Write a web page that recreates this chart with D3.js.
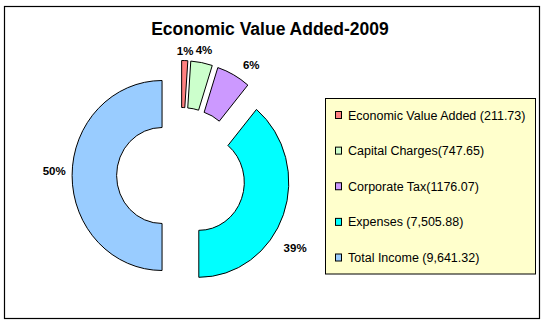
<!DOCTYPE html>
<html><head><meta charset="utf-8">
<script src="https://cdn.jsdelivr.net/npm/d3@7"></script>
<style>body{margin:0;background:#fff}svg{display:block}</style>
</head><body>
<svg id="c" width="546" height="324"></svg>
<script>
const title = "Economic Value Added-2009";
const categories = ["Economic Value Added", "Capital Charges", "Corporate Tax", "Expenses", "Total Income"];
const values = [211.73, 747.65, 1176.07, 7505.88, 9641.32];
const legendLabels = ["Economic Value Added (211.73)", "Capital Charges(747.65)", "Corporate Tax(1176.07)", "Expenses (7,505.88)", "Total Income (9,641.32)"];
const colors = ["#FF8080", "#CCFFCC", "#CC99FF", "#00FFFF", "#99CCFF"];

// styling / layout
const cx = 181, cy = 175.5, R = 95, r0 = 48, sx = 0.947, explode = 20;
const labelNudgeDeg = [0, 0, 5, 11, 2];
const labelRadius = [125, 128, 133, 140.5, 134];

const svg = d3.select("#c");
svg.append("rect").attr("x", 4.5).attr("y", 6.5).attr("width", 535).attr("height", 312)
  .attr("fill", "#fff").attr("stroke", "#000").attr("stroke-width", 1.2);

svg.append("text").attr("x", 270).attr("y", 35).attr("text-anchor", "middle")
  .attr("font-family", "Liberation Sans, Arial, sans-serif").attr("font-weight", "bold")
  .attr("font-size", 17.5).attr("fill", "#000").text(title);

const pie = d3.pie().value(d => d).sort(null);
const arcs = pie(values);
const total = d3.sum(values);
const arc = d3.arc().innerRadius(r0).outerRadius(R);

const g = svg.append("g").attr("transform", `translate(${cx},${cy}) scale(${sx},1)`);
g.selectAll("path").data(arcs).join("path")
  .attr("transform", d => { const m = (d.startAngle + d.endAngle) / 2; return `translate(${explode * Math.sin(m)},${-explode * Math.cos(m)})`; })
  .attr("d", arc)
  .attr("fill", (d, i) => colors[i])
  .attr("stroke", "#000").attr("stroke-width", 1).attr("vector-effect", "non-scaling-stroke");

svg.selectAll("text.pct").data(arcs).join("text").attr("class", "pct")
  .attr("x", (d, i) => { const m = (d.startAngle + d.endAngle) / 2 + labelNudgeDeg[i] * Math.PI / 180; return cx + sx * labelRadius[i] * Math.sin(m); })
  .attr("y", (d, i) => { const m = (d.startAngle + d.endAngle) / 2 + labelNudgeDeg[i] * Math.PI / 180; return cy - labelRadius[i] * Math.cos(m); })
  .attr("dy", "0.36em").attr("text-anchor", "middle")
  .attr("font-family", "Liberation Sans, Arial, sans-serif").attr("font-weight", "bold")
  .attr("font-size", 11.5).attr("fill", "#000")
  .text(d => Math.round(d.data / total * 100) + "%");

const lg = svg.append("g");
lg.append("rect").attr("x", 325.5).attr("y", 98.5).attr("width", 210).attr("height", 175.5)
  .attr("fill", "#FFFFCC").attr("stroke", "#000").attr("stroke-width", 1);
const ly = d3.scalePoint().domain(categories).range([115, 257.5]);
const rows = lg.selectAll("g.row").data(categories).join("g").attr("class", "row")
  .attr("transform", d => `translate(0,${ly(d)})`);
rows.append("rect").attr("x", 335.5).attr("y", -3.5).attr("width", 6).attr("height", 7)
  .attr("fill", (d, i) => colors[i]).attr("stroke", "#000").attr("stroke-width", 1);
rows.append("text").attr("x", 348).attr("y", 0).attr("dy", "0.36em")
  .attr("font-family", "Liberation Sans, Arial, sans-serif").attr("font-size", 12.5).attr("fill", "#000")
  .text((d, i) => legendLabels[i]);
</script>
</body></html>
